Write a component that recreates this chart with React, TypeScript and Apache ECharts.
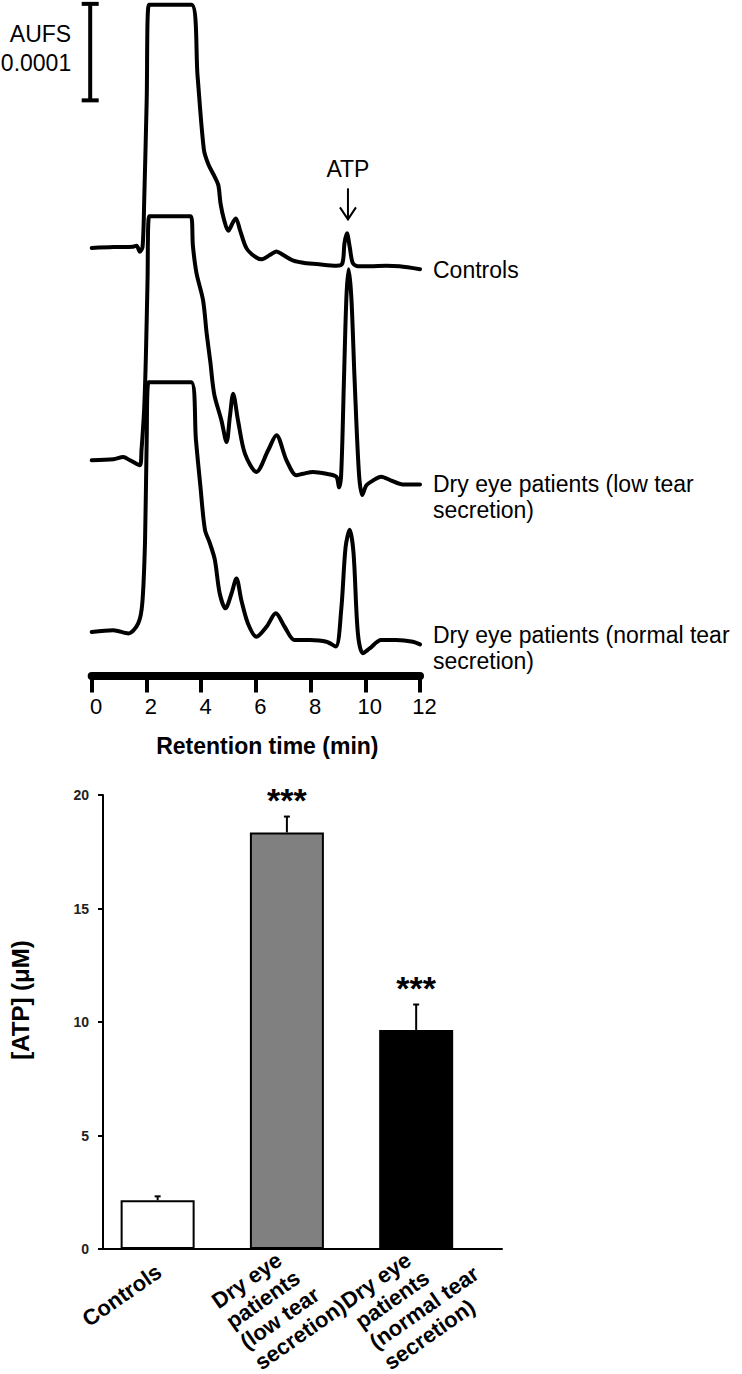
import React, { useEffect, useRef } from "react";
import * as echarts from "echarts";

// ---------- Chromatogram data (signal in 1e-5 AU, relative to each trace's baseline) ----------
const TIME_RANGE = [0, 12];
const TIME_INTERVAL = 2;
const TRACE_NAMES = [
  "Controls",
  "Dry eye patients (low tear\nsecretion)",
  "Dry eye patients (normal tear\nsecretion)",
];
const TRACE_OFFSETS = [44.4, 22.3, 4.5];
const CONTROLS_TRACE = [
  [0, -0.1], [0.8, 0.0], [1.51, 0.03], [1.64, 0.13], [1.76, -0.49], [1.86, 0.03], [1.92, 4.9],
  [2.01, 15.2], [2.09, 25.1], [3.65, 25.1], [3.87, 17.7], [4.1, 10.1], [4.26, 8.6], [4.51, 7.2],
  [4.63, 6.4], [4.71, 4.5], [4.84, 2.8], [4.99, 1.68], [5.17, 2.6], [5.27, 2.97], [5.42, 1.76],
  [5.66, -0.14], [5.97, -1.0], [6.21, -1.27], [6.51, -0.83], [6.75, -0.45], [7.0, -0.83],
  [7.37, -1.41], [7.86, -1.69], [8.21, -1.76], [8.94, -1.93], [9.16, -1.7], [9.24, 0.4],
  [9.33, 1.42], [9.43, 0.03], [9.55, -1.7], [9.79, -2.0], [10.16, -2.0], [10.77, -1.93],
  [11.25, -2.0], [12, -2.3],
];
const LOW_TEAR_TRACE = [
  [0, 0], [0.8, 0.1], [1.15, 0.34], [1.4, 0], [1.76, -0.52], [1.82, 1.04], [1.92, 5.5],
  [1.98, 10.7], [2.04, 18.5], [2.1, 25.3], [3.62, 25.3], [3.7, 22.2], [3.83, 19.4], [4.07, 16.6],
  [4.2, 13.2], [4.34, 10.1], [4.42, 8.0], [4.5, 6.56], [4.74, 4.15], [4.93, 1.9], [5.05, 4.5],
  [5.17, 6.9], [5.35, 4.1], [5.6, 0.7], [6.02, -1.2], [6.45, 1.04], [6.75, 2.6], [7.12, 0],
  [7.48, -1.55], [7.72, -1.4], [8.09, -1.2], [8.58, -1.4], [8.94, -1.7], [9.04, -2.8],
  [9.12, -1.4], [9.22, 8.3], [9.31, 16.9], [9.39, 19.8], [9.49, 16.9], [9.61, 8.3], [9.77, -1.4],
  [9.89, -3.6], [10.04, -2.6], [10.28, -2.1], [10.58, -1.7], [10.95, -2.1], [11.37, -2.5],
  [12, -2.5],
];
const NORMAL_TEAR_TRACE = [
  [0, 0], [0.79, 0.2], [1.34, -0.14], [1.7, 0.9], [1.85, 3.0], [1.95, 9.5], [2.01, 19.9],
  [2.08, 25.9], [3.64, 25.9], [3.81, 19.9], [3.97, 15.2], [4.14, 10.6], [4.32, 9.2], [4.5, 7.5],
  [4.68, 4.0], [4.89, 2.46], [5.11, 4.0], [5.29, 5.56], [5.47, 3.3], [5.71, 0.9], [6.02, -0.48],
  [6.39, 0.55], [6.73, 1.94], [7.05, 0.55], [7.42, -0.83], [7.97, -0.83], [8.58, -1.0],
  [8.92, -1.5], [9.12, 2.3], [9.28, 8.8], [9.43, 10.6], [9.57, 8.2], [9.73, -0.14], [9.91, -2.2],
  [10.16, -1.7], [10.58, -0.83], [11.13, -0.83], [11.74, -1.0], [12, -1.27],
];
const TRACES = [CONTROLS_TRACE, LOW_TEAR_TRACE, NORMAL_TEAR_TRACE];
const ATP_RETENTION = 9.33;
const SCALE_BAR = [59.6, 69.6]; // 10 x 1e-5 AU = 0.0001 AUFS
const SCALE_BAR_LABEL = ["AUFS", "0.0001"];

// ---------- Bar chart data ----------
const GROUPS = [
  "Controls",
  "Dry eye\npatients\n(low tear\nsecretion)",
  "Dry eye\npatients\n(normal tear\nsecretion)",
];
const ATP_MEAN = [2.15, 18.35, 9.65];
const ATP_SEM = [0.17, 0.7, 1.12];
const SIGNIFICANCE = ["", "***", "***"];
const BAR_COLORS = ["#ffffff", "#808080", "#000000"];
const ATP_AXIS = [0, 20, 5];

const FONT = "'Liberation Sans', Arial, Helvetica, sans-serif";
const END_LABEL_DY = [1, 13, 4];

export default function App() {
  const ref = useRef<HTMLDivElement>(null);

  useEffect(() => {
    if (!ref.current) return;
    const chart = echarts.init(ref.current, null, { renderer: "svg" });

    const option: any = {
      animation: false,
      textStyle: { fontFamily: FONT },
      grid: [
        { left: 91.7, width: 328.3, top: 0, height: 675.5 },
        { left: 93, width: 409, top: 795, height: 454 },
      ],
      xAxis: [
        {
          gridIndex: 0,
          type: "value",
          min: TIME_RANGE[0],
          max: TIME_RANGE[1],
          interval: TIME_INTERVAL,
          axisLine: { lineStyle: { color: "#000", width: 8 } },
          axisTick: { show: true, length: 17, lineStyle: { color: "#000", width: 4 } },
          axisLabel: { margin: 20, fontSize: 22, color: "#000", fontFamily: FONT, padding: [0, 0, 0, 9] },
          splitLine: { show: false },
          name: "Retention time (min)",
          nameLocation: "middle",
          nameGap: 59,
          nameTextStyle: { fontSize: 23, fontWeight: "bold", color: "#000", fontFamily: FONT, padding: [0, 0, 0, 23] },
        },
        {
          gridIndex: 1,
          type: "value",
          min: -0.4226,
          max: 2.664,
          axisLine: { onZero: false, lineStyle: { color: "#000", width: 2 } },
          axisTick: { show: false },
          axisLabel: { show: false },
          splitLine: { show: false },
        },
      ],
      yAxis: [
        { gridIndex: 0, type: "value", min: 0, max: 70, show: false },
        {
          gridIndex: 1,
          type: "value",
          min: ATP_AXIS[0],
          max: ATP_AXIS[1],
          interval: ATP_AXIS[2],
          axisLine: { show: true, onZero: false, lineStyle: { color: "#000", width: 2 } },
          axisTick: { show: true, length: 5, lineStyle: { color: "#000", width: 2 } },
          axisLabel: { fontSize: 14, fontWeight: "bold", color: "#222", margin: 14, fontFamily: FONT },
          splitLine: { show: false },
          name: "[ATP] (μM)",
          nameLocation: "middle",
          nameGap: 71,
          nameTextStyle: { fontSize: 24, fontWeight: "bold", color: "#000", fontFamily: FONT, padding: [0, 0, 0, 44] },
        },
      ],
      series: [
        ...TRACES.map((tr, i) => ({
          type: "line",
          name: TRACE_NAMES[i],
          xAxisIndex: 0,
          yAxisIndex: 0,
          data: tr.map(([t, s]) => [t, s + TRACE_OFFSETS[i]]),
          symbol: "none",
          showSymbol: false,
          smooth: 0.3,
          silent: true,
          lineStyle: { color: "#000", width: 4, cap: "round", join: "round" },
          endLabel: {
            show: true,
            formatter: () => TRACE_NAMES[i],
            distance: 13,
            offset: [0, END_LABEL_DY[i]],
            fontSize: 23,
            lineHeight: 26,
            color: "#000",
            fontFamily: FONT,
          },
        })),
        {
          type: "bar",
          xAxisIndex: 1,
          yAxisIndex: 1,
          barWidth: 74,
          silent: true,
          data: ATP_MEAN.map((m, i) => ({ value: [i, m], itemStyle: { color: BAR_COLORS[i] } })),
          itemStyle: { borderColor: "#000", borderWidth: 2 },
        },
        {
          type: "custom",
          xAxisIndex: 1,
          yAxisIndex: 1,
          silent: true,
          z: 5,
          encode: { x: 0, y: 1 },
          data: ATP_MEAN.map((m, i) => [i, m, ATP_SEM[i]]),
          renderItem: (params: any, api: any) => {
            const i = api.value(0);
            const m = api.value(1);
            const e = api.value(2);
            const p0 = api.coord([i, m]);
            const p1 = api.coord([i, m + e]);
            return {
              type: "group",
              children: [
                { type: "line", shape: { x1: p0[0], y1: p0[1], x2: p1[0], y2: p1[1] }, style: { stroke: "#000", lineWidth: 2 } },
                { type: "line", shape: { x1: p1[0] - 3, y1: p1[1], x2: p1[0] + 3, y2: p1[1] }, style: { stroke: "#000", lineWidth: 2 } },
                {
                  type: "text",
                  x: p1[0],
                  y: p1[1] - 17,
                  style: {
                    text: SIGNIFICANCE[params.dataIndex],
                    fill: "#000",
                    font: `bold 34px ${FONT}`,
                    align: "center",
                    verticalAlign: "middle",
                  },
                },
              ],
            };
          },
        },
      ],
    };
    chart.setOption(option);

    // annotations derived from the axes
    const px = (t: number, v: number) => chart.convertToPixel({ gridIndex: 0 }, [t, v]) as number[];
    const x0 = px(0, 0)[0] - 1.5;
    const sbTop = px(0, SCALE_BAR[1])[1];
    const sbBot = px(0, SCALE_BAR[0])[1];
    const atpIdx = CONTROLS_TRACE.findIndex((d) => d[0] === ATP_RETENTION);
    const atpPeak = px(ATP_RETENTION, CONTROLS_TRACE[atpIdx][1] + TRACE_OFFSETS[0]);
    const ax = atpPeak[0] + 1;
    const tipY = atpPeak[1] - 14;

    const graphics: any[] = [
      { type: "line", shape: { x1: x0, y1: sbTop, x2: x0, y2: sbBot }, style: { stroke: "#000", lineWidth: 4 } },
      { type: "line", shape: { x1: x0 - 8.5, y1: sbTop, x2: x0 + 8.5, y2: sbTop }, style: { stroke: "#000", lineWidth: 4 } },
      { type: "line", shape: { x1: x0 - 8.5, y1: sbBot, x2: x0 + 8.5, y2: sbBot }, style: { stroke: "#000", lineWidth: 4 } },
      {
        type: "text",
        x: x0 - 19,
        y: sbTop + 30,
        style: { text: SCALE_BAR_LABEL[0], font: `23px ${FONT}`, fill: "#000", align: "right", verticalAlign: "middle" },
      },
      {
        type: "text",
        x: x0 - 19,
        y: sbTop + 59,
        style: { text: SCALE_BAR_LABEL[1], font: `23px ${FONT}`, fill: "#000", align: "right", verticalAlign: "middle" },
      },
      { type: "line", shape: { x1: ax, y1: tipY - 31, x2: ax, y2: tipY }, style: { stroke: "#000", lineWidth: 2 } },
      {
        type: "polyline",
        shape: { points: [[ax - 8, tipY - 12], [ax, tipY], [ax + 8, tipY - 12]] },
        style: { stroke: "#000", lineWidth: 2, fill: null },
      },
      {
        type: "text",
        x: ax,
        y: tipY - 50,
        style: { text: "ATP", font: `23px ${FONT}`, fill: "#000", align: "center", verticalAlign: "middle" },
      },
    ];

    const axisY = chart.convertToPixel({ yAxisIndex: 1 }, 0) as number;
    GROUPS.forEach((g, i) => {
      const tx = chart.convertToPixel({ xAxisIndex: 1 }, i) as number;
      const n = g.split("\n").length;
      graphics.push({
        type: "text",
        x: tx - 80,
        y: axisY + 44 + (4 - n) * 6,
        rotation: (35 * Math.PI) / 180,
        style: {
          text: g,
          font: `bold 22px ${FONT}`,
          lineHeight: 25,
          fill: "#000",
          align: "left",
          verticalAlign: "top",
        },
      });
    });

    chart.setOption({ graphic: graphics });

    return () => chart.dispose();
  }, []);

  return (
    <div
      ref={ref}
      style={{ position: "absolute", left: 0, top: 0, width: 742, height: 1374, background: "#fff" }}
    />
  );
}
